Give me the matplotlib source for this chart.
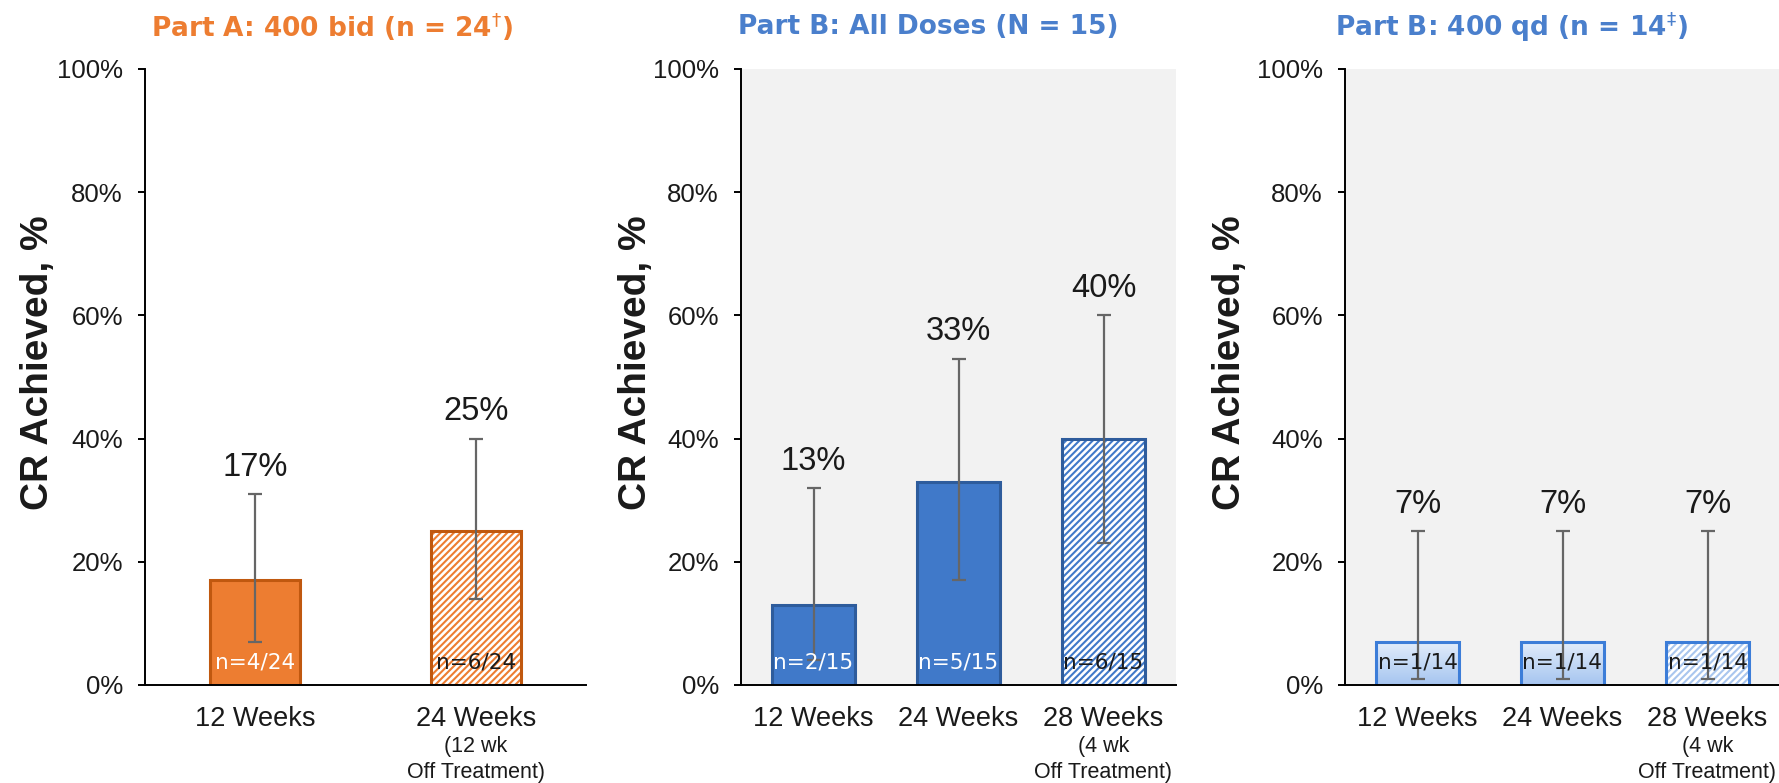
import numpy as np
import matplotlib
matplotlib.use("Agg")
import matplotlib.pyplot as plt
from matplotlib.colors import LinearSegmentedColormap

# ---- data -------------------------------------------------------------
a_categories = ["12 Weeks", "24 Weeks"]
a_notes = ["", "(12 wk\nOff Treatment)"]
a_values = [17, 25]
a_ci_low = [7, 14]
a_ci_high = [31, 40]
a_counts = ["n=4/24", "n=6/24"]

b_categories = ["12 Weeks", "24 Weeks", "28 Weeks"]
b_notes = ["", "", "(4 wk\nOff Treatment)"]
b_values = [13, 33, 40]
b_ci_low = [4, 17, 23]
b_ci_high = [32, 53, 60]
b_counts = ["n=2/15", "n=5/15", "n=6/15"]

c_categories = ["12 Weeks", "24 Weeks", "28 Weeks"]
c_notes = ["", "", "(4 wk\nOff Treatment)"]
c_values = [7, 7, 7]
c_ci_low = [1, 1, 1]
c_ci_high = [25, 25, 25]
c_counts = ["n=1/14", "n=1/14", "n=1/14"]

titles = [r"Part A: 400 bid (n = 24$^{\dagger}$)",
          "Part B: All Doses (N = 15)",
          r"Part B: 400 qd (n = 14$^{\ddagger}$)"]
y_ticks = [0, 20, 40, 60, 80, 100]
y_label = "CR Achieved, %"

# ---- style ------------------------------------------------------------
plt.rcParams["font.family"] = ["Liberation Sans", "DejaVu Sans"]
plt.rcParams["hatch.linewidth"] = 1.5

W, H = 1779, 783
TXT = "#1a1a1a"
ORANGE, ORANGE_EDGE = "#ED7D31", "#C0580F"
BLUE, BLUE_EDGE = "#4079C9", "#2E5C9C"
LIGHT_EDGE, LIGHT_HATCH = "#3C7DD8", "#A9C6EE"
TITLE_ORANGE, TITLE_BLUE = "#ED7D31", "#4A7FCC"
GRAY_BG = "#F2F2F2"
ERR = "#666666"

fig = plt.figure(figsize=(W / 100, H / 100), dpi=100)

Y0, Y1 = 685, 69  # pixel rows of 0% and 100%


def make_axes(x0, w):
    return fig.add_axes([x0 / W, 1 - Y0 / H, w / W, (Y0 - Y1) / H])


grad_cmap = LinearSegmentedColormap.from_list("bar_grad", ["#A6C5F0", "#E3EDFB"])


def draw_panel(ax, cats, notes, vals, lo, hi, counts, styles, width, bg):
    x = np.arange(len(cats))
    ax.set_facecolor(bg)
    for i, (v, st) in enumerate(zip(vals, styles)):
        kind, count_color = st
        if kind == "solid_orange":
            ax.bar(x[i], v, width, color=ORANGE, edgecolor=ORANGE_EDGE, linewidth=2.2, zorder=2)
        elif kind == "solid_blue":
            ax.bar(x[i], v, width, color=BLUE, edgecolor=BLUE_EDGE, linewidth=2.2, zorder=2)
        elif kind in ("hatch_orange", "hatch_blue", "hatch_light"):
            hc, ec = {"hatch_orange": (ORANGE, ORANGE_EDGE),
                      "hatch_blue": (BLUE, BLUE_EDGE),
                      "hatch_light": (LIGHT_HATCH, LIGHT_EDGE)}[kind]
            ax.bar(x[i], v, width, facecolor="white", edgecolor=hc, hatch="/////",
                   linewidth=0, zorder=2)
            ax.bar(x[i], v, width, fill=False, edgecolor=ec, linewidth=2.2, zorder=2.5)
        elif kind == "gradient":
            bars = ax.bar(x[i], v, width, facecolor="none", edgecolor=LIGHT_EDGE,
                          linewidth=2.2, zorder=2.5)
            grad = np.linspace(0, 1, 64).reshape(-1, 1)
            im = ax.imshow(grad, extent=[x[i] - width / 2, x[i] + width / 2, 0, v],
                           origin="lower", aspect="auto", cmap=grad_cmap, zorder=2)
            im.set_clip_path(bars.patches[0])
        # count inside the bar
        ax.annotate(counts[i], xy=(x[i], 0), xytext=(0, 16.5), textcoords="offset points",
                    ha="center", va="center", fontsize=15.5, color=count_color,
                    family="DejaVu Sans", zorder=4)

    vals_a = np.array(vals)
    ax.errorbar(x, vals_a, yerr=[vals_a - np.array(lo), np.array(hi) - vals_a], fmt="none",
                ecolor=ERR, elinewidth=1.6, capsize=5, capthick=1.6, zorder=3)
    for i, v in enumerate(vals):
        ax.annotate(f"{v}%", xy=(x[i], hi[i]), xytext=(0, 8), textcoords="offset points",
                    ha="center", va="bottom", fontsize=23.5, color=TXT)

    ax.set_xlim(-0.5, len(cats) - 0.5)
    ax.set_ylim(0, 100)
    ax.set_yticks(y_ticks, [f"{t}%" for t in y_ticks])
    ax.set_xticks(x, cats)
    ax.tick_params(axis="x", length=0, pad=15, labelsize=19.5, labelcolor=TXT)
    ax.tick_params(axis="y", length=5, width=1.4, pad=11, labelsize=18.5, labelcolor=TXT)
    for s in ("top", "right"):
        ax.spines[s].set_visible(False)
    for s in ("left", "bottom"):
        ax.spines[s].set_linewidth(1.4)
        ax.spines[s].set_color("black")
    for i, note in enumerate(notes):
        if note:
            ax.annotate(note, xy=(x[i], 0), xycoords=("data", "axes fraction"),
                        xytext=(0, -37), textcoords="offset points", ha="center",
                        va="top", fontsize=15.5, linespacing=1.3, color=TXT)


ax1 = make_axes(145, 441)
draw_panel(ax1, a_categories, a_notes, a_values, a_ci_low, a_ci_high, a_counts,
           [("solid_orange", "white"), ("hatch_orange", TXT)], 0.41, "white")

ax2 = make_axes(741, 435)
draw_panel(ax2, b_categories, b_notes, b_values, b_ci_low, b_ci_high, b_counts,
           [("solid_blue", "white"), ("solid_blue", "white"), ("hatch_blue", TXT)],
           0.57, GRAY_BG)

ax3 = make_axes(1345, 435)
draw_panel(ax3, c_categories, c_notes, c_values, c_ci_low, c_ci_high, c_counts,
           [("gradient", TXT), ("gradient", TXT), ("hatch_light", TXT)],
           0.57, GRAY_BG)

# panel titles
for cx, title, col in zip([332, 928, 1511], titles, [TITLE_ORANGE, TITLE_BLUE, TITLE_BLUE]):
    fig.text(cx / W, 1 - 27 / H, title, ha="center", va="center", fontsize=19,
             fontweight="bold", color=col, family="DejaVu Sans")

# y-axis titles
for lx in [38, 636, 1230]:
    fig.text(lx / W, 1 - 363 / H, y_label, rotation=90, ha="center", va="center",
             fontsize=28, fontweight="bold", color=TXT)

fig.savefig("out.png", dpi=100)
